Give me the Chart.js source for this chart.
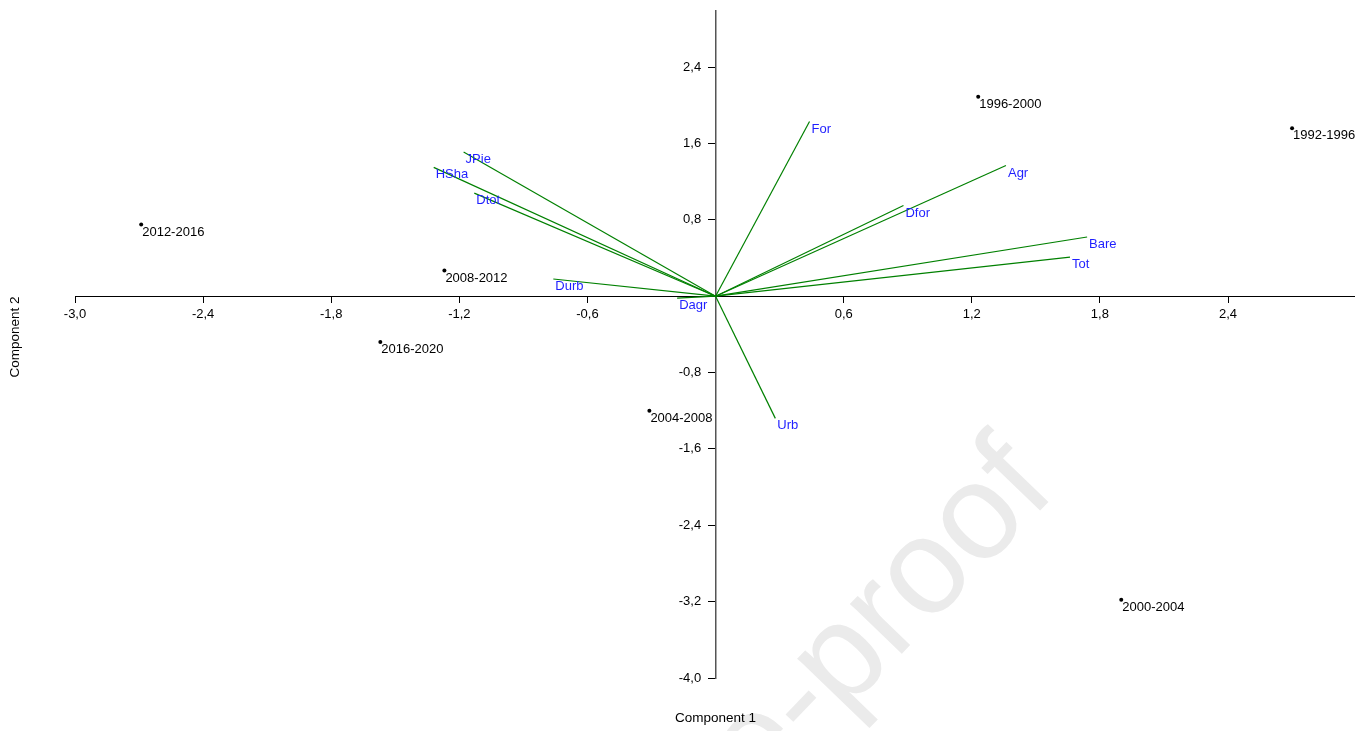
<!DOCTYPE html>
<html>
<head>
<meta charset="utf-8">
<script src="https://cdn.jsdelivr.net/npm/chart.js@4"></script>
<style>
  html, body { margin: 0; padding: 0; background: #fff; }
  #wrap { width: 1371px; height: 731px; }
</style>
</head>
<body>
<div id="wrap"><canvas id="myChart"></canvas></div>
<script>
// period scores
const periods = ["1992-1996", "1996-2000", "2000-2004", "2004-2008", "2008-2012", "2012-2016", "2016-2020"];
const periodX = [2.70, 1.23, 1.90, -0.31, -1.27, -2.69, -1.57];
const periodY = [1.76, 2.09, -3.18, -1.20, 0.27, 0.75, -0.48];

// variable loadings
const variables = ["For", "Agr", "Dfor", "Bare", "Tot", "Urb", "Dagr", "Durb", "JPie", "HSha", "Dtot"];
const varX = [0.44, 1.36, 0.88, 1.74, 1.66, 0.28, -0.18, -0.76, -1.18, -1.32, -1.13];
const varY = [1.83, 1.37, 0.95, 0.62, 0.41, -1.28, -0.02, 0.18, 1.51, 1.35, 1.08];

const xTicks = [-3.0, -2.4, -1.8, -1.2, -0.6, 0.6, 1.2, 1.8, 2.4];
const yTicks = [-4.0, -3.2, -2.4, -1.6, -0.8, 0.8, 1.6, 2.4];

const fmt = (v) => v.toFixed(1).replace(".", ",");
const FONT = "'Liberation Sans', Arial";

const datasets = [
  {
    label: "Periods",
    data: periodX.map((x, i) => ({ x: x, y: periodY[i] })),
    showLine: false,
    pointRadius: 2,
    pointBackgroundColor: "#000",
    pointBorderWidth: 0,
  },
];
variables.forEach((name, i) => {
  datasets.push({
    label: name,
    data: [{ x: 0, y: 0 }, { x: varX[i], y: varY[i] }],
    showLine: true,
    borderColor: "#008000",
    borderWidth: 1.2,
    pointRadius: 0,
  });
});

const textPlugin = {
  id: "textPlugin",
  beforeDraw(chart) {
    // faint watermark of the source page
    const ctx = chart.ctx;
    ctx.save();
    ctx.translate(1058, 492);
    ctx.rotate(-46 * Math.PI / 180);
    ctx.font = "136px " + FONT;
    ctx.fillStyle = "#ebebeb";
    ctx.textAlign = "right";
    ctx.textBaseline = "alphabetic";
    ctx.fillText("Journal Pre-proof", 0, 0);
    ctx.restore();
  },
  afterDatasetsDraw(chart) {
    const ctx = chart.ctx;
    ctx.save();
    ctx.font = "13px " + FONT;
    ctx.textAlign = "left";
    ctx.textBaseline = "top";
    const pts = chart.getDatasetMeta(0).data;
    ctx.fillStyle = "#000";
    pts.forEach((p, i) => ctx.fillText(periods[i], p.x + 1, p.y + 1));
    ctx.fillStyle = "#1f1fff";
    variables.forEach((name, i) => {
      const p = chart.getDatasetMeta(i + 1).data[1];
      ctx.fillText(name, p.x + 2, p.y + 1);
    });
    // axis titles
    ctx.font = "13.5px " + FONT;
    ctx.fillStyle = "#000";
    ctx.textAlign = "center";
    ctx.textBaseline = "middle";
    ctx.fillText("Component 1", chart.scales.x.getPixelForValue(0), 718);
    ctx.translate(15, 337);
    ctx.rotate(-Math.PI / 2);
    ctx.fillText("Component 2", 0, 0);
    ctx.restore();
  },
};

function createChart() {
  const ctx = document.getElementById("myChart").getContext("2d");
  new Chart(ctx, {
    type: "scatter",
    data: { datasets: datasets },
    options: {
      responsive: true,
      maintainAspectRatio: false,
      animation: false,
      layout: { padding: { left: 75, right: 17, top: 10, bottom: 53 } },
      plugins: { legend: { display: false }, tooltip: { enabled: false } },
      scales: {
        x: {
          type: "linear",
          min: -3,
          max: 2.99,
          position: { y: 0 },
          afterBuildTicks: (s) => { s.ticks = xTicks.map((v) => ({ value: v })); },
          border: { display: true, color: "#000", width: 1 },
          grid: { drawOnChartArea: false, drawTicks: true, tickLength: 6, color: "#000" },
          ticks: {
            color: "#000",
            font: { family: FONT, size: 13 },
            padding: 4,
            maxRotation: 0,
            callback: (v) => fmt(v),
          },
        },
        y: {
          type: "linear",
          min: -4,
          max: 2.99,
          position: { x: 0 },
          afterBuildTicks: (s) => { s.ticks = yTicks.map((v) => ({ value: v })); },
          border: { display: true, color: "#555", width: 1.5 },
          grid: { drawOnChartArea: false, drawTicks: true, tickLength: 7, color: "#000" },
          ticks: {
            color: "#000",
            font: { family: FONT, size: 13 },
            // labels sit right against the axis line here, so pad them on the right
            callback: (v) => fmt(v) + "    ",
          },
        },
      },
    },
    plugins: [textPlugin],
  });
}

createChart();
</script>
</body>
</html>
